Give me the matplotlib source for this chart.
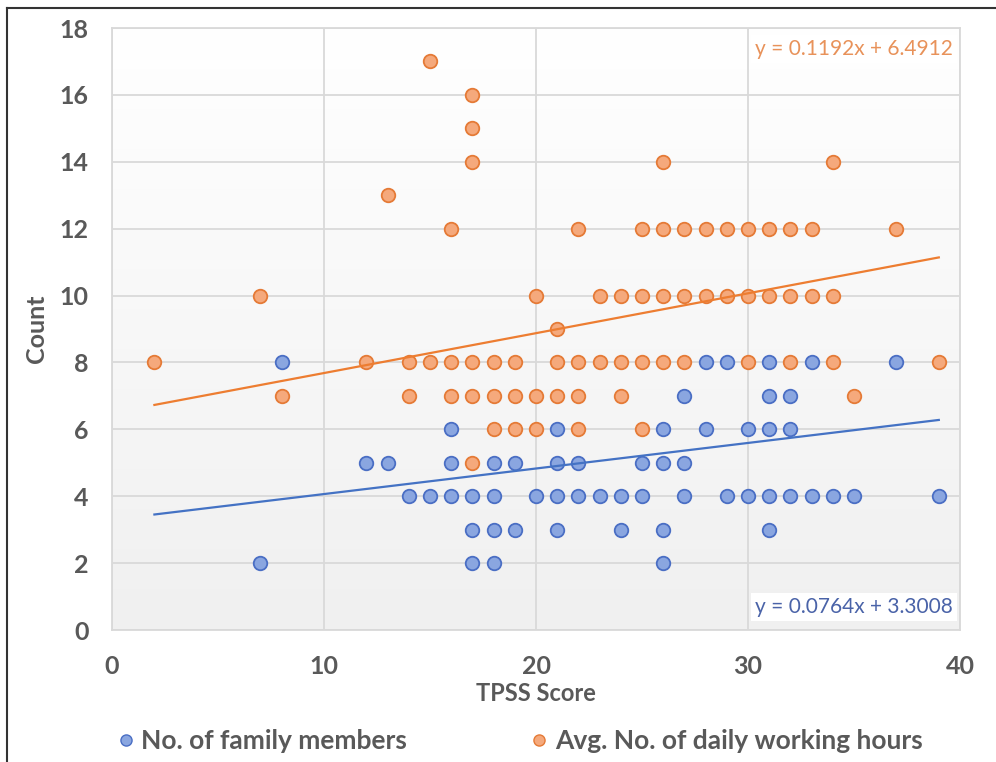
import numpy as np
import matplotlib
matplotlib.use("Agg")
import matplotlib.pyplot as plt
from matplotlib.lines import Line2D
from matplotlib.colors import LinearSegmentedColormap

plt.rcParams['font.family'] = ['Lato', 'DejaVu Sans']

# ---- data ----
fam_x = [8, 28, 29, 31, 33, 37,
         27, 31, 32,
         16, 21, 26, 28, 30, 31, 32,
         12, 13, 16, 18, 19, 21, 22, 25, 26, 27,
         14, 15, 16, 17, 18, 20, 21, 22, 23, 24, 25, 27, 29, 30, 31, 32, 33, 34, 35, 39,
         17, 18, 19, 21, 24, 26, 31,
         7, 17, 18, 26]
fam_y = [8] * 6 + [7] * 3 + [6] * 7 + [5] * 10 + [4] * 20 + [3] * 7 + [2] * 4

hrs_x = [15,
         17,
         17,
         17, 26, 34,
         13,
         16, 22, 25, 26, 27, 28, 29, 30, 31, 32, 33, 37,
         7, 20, 23, 24, 25, 26, 27, 28, 29, 30, 31, 32, 33, 34,
         21,
         2, 12, 14, 15, 16, 17, 18, 19, 21, 22, 23, 24, 25, 26, 27, 30, 32, 34, 39,
         8, 14, 16, 17, 18, 19, 20, 21, 22, 24, 35,
         18, 19, 20, 22, 25,
         17]
hrs_y = ([17] + [16] + [15] + [14] * 3 + [13] + [12] * 12 + [10] * 14 + [9]
         + [8] * 19 + [7] * 11 + [6] * 5 + [5])

fam_slope, fam_icpt = 0.0764, 3.3008
hrs_slope, hrs_icpt = 0.1192, 6.4912
trend_x = [2, 39]

series_names = ["No. of family members", "Avg. No. of daily working hours"]
x_ticks = [0, 10, 20, 30, 40]
y_ticks = list(range(0, 19, 2))

# ---- styling ----
blue_fill, blue_edge, blue_line = "#8aa6e0", "#4a6ec4", "#4472c4"
orng_fill, orng_edge, orng_line = "#f5a97c", "#e57a36", "#ed7d31"
text_col = "#595959"
grid_col = "#d9d9d9"

fig = plt.figure(figsize=(9.96, 7.62), dpi=100)
ax = fig.add_axes([112 / 996, 1 - 630 / 762, 848 / 996, 602 / 762])

# gradient background
grad = np.linspace(1.0, 0.0, 256).reshape(-1, 1)
cmap = LinearSegmentedColormap.from_list("bg", ["#f0f0f0", "#ffffff"])
ax.imshow(grad, extent=[0, 1, 0, 1], transform=ax.transAxes, cmap=cmap,
          aspect="auto", zorder=0, vmin=0, vmax=1)

ax.set_xlim(0, 40)
ax.set_ylim(0, 18)
ax.set_xticks(x_ticks)
ax.set_yticks(y_ticks)
ax.grid(True, color=grid_col, linewidth=1.3, zorder=1)
ax.set_axisbelow(True)
for s in ax.spines.values():
    s.set_color(grid_col)
    s.set_linewidth(1.3)
ax.tick_params(length=0, labelsize=18, colors=text_col)
ax.tick_params(axis="y", pad=17)
ax.tick_params(axis="x", pad=18)
for lbl in ax.get_xticklabels() + ax.get_yticklabels():
    lbl.set_fontweight("bold")

ax.scatter(fam_x, fam_y, s=95, facecolor=blue_fill, edgecolor=blue_edge,
           linewidth=1.3, zorder=3)
ax.scatter(hrs_x, hrs_y, s=95, facecolor=orng_fill, edgecolor=orng_edge,
           linewidth=1.3, zorder=4)

tx = np.array(trend_x, dtype=float)
ax.plot(tx, fam_slope * tx + fam_icpt, color=blue_line, linewidth=1.6, zorder=5)
ax.plot(tx, hrs_slope * tx + hrs_icpt, color=orng_line, linewidth=1.6, zorder=5)

ax.text(0.992, 0.965, f"y = {hrs_slope}x + {hrs_icpt}", transform=ax.transAxes,
        ha="right", va="center", fontsize=15, color="#e8925a", zorder=6,
        bbox=dict(facecolor="white", edgecolor="none", pad=3))
ax.text(0.992, 0.038, f"y = {fam_slope}x + {fam_icpt}", transform=ax.transAxes,
        ha="right", va="center", fontsize=15, color="#4a63a8", zorder=6,
        bbox=dict(facecolor="white", edgecolor="none", pad=3))

ax.set_xlabel("TPSS Score", fontsize=17, fontweight="bold", color=text_col, labelpad=3)
ax.set_ylabel("Count", fontsize=18, fontweight="bold", color=text_col, labelpad=8)

handles = [Line2D([], [], linestyle="none", marker="o", markersize=8,
                  markerfacecolor=blue_fill, markeredgecolor=blue_edge, markeredgewidth=1),
           Line2D([], [], linestyle="none", marker="o", markersize=8,
                  markerfacecolor=orng_fill, markeredgecolor=orng_edge, markeredgewidth=1)]
leg = fig.legend(handles, series_names, loc="center", bbox_to_anchor=(0.521, 0.027),
                 ncol=2, frameon=False, fontsize=19, handletextpad=0.2,
                 columnspacing=4.6, handlelength=0.8)
for t in leg.get_texts():
    t.set_color(text_col)
    t.set_fontweight("bold")

# outer border (left and top edges)
fig.add_artist(Line2D([7 / 996, 7 / 996], [0, 1 - 8 / 762], transform=fig.transFigure,
                      color="#333333", linewidth=1.5))
fig.add_artist(Line2D([7 / 996, 1], [1 - 8 / 762, 1 - 8 / 762], transform=fig.transFigure,
                      color="#333333", linewidth=1.5))

fig.savefig("out.png", dpi=100)
